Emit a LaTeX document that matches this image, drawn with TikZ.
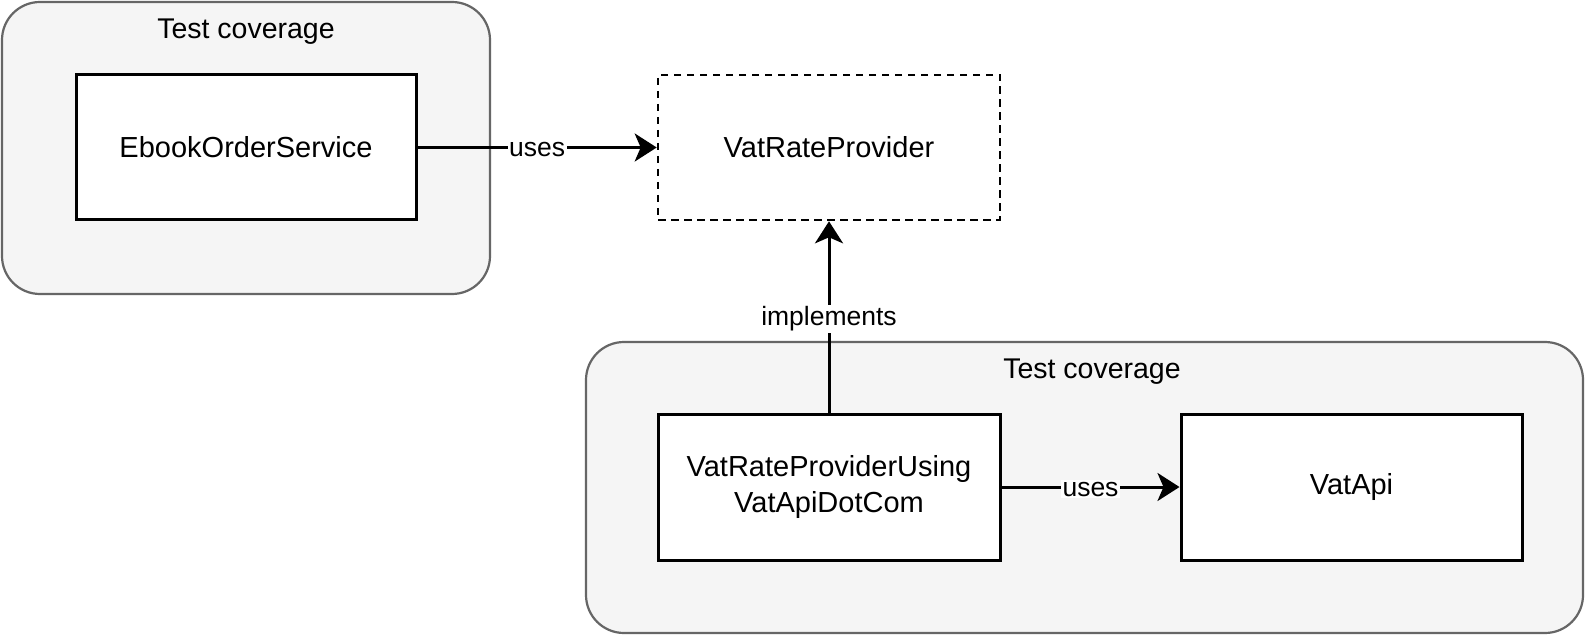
\documentclass[tikz,border=0pt]{standalone}
\usepackage{fontspec}
\setmainfont{Liberation Sans}
\usetikzlibrary{arrows.meta}
\definecolor{cgray}{HTML}{666666}
\definecolor{cfill}{HTML}{F5F5F5}
\begin{document}
\begin{tikzpicture}[x=1pt,y=-1pt,
  container/.style={draw=cgray, fill=cfill, line width=2.2pt, rounded corners=38pt, inner sep=0pt},
  cls/.style={draw=black, fill=white, line width=3pt, minimum width=341pt, minimum height=145pt, inner sep=0pt, font=\fontsize{29}{35.5}\selectfont, align=center},
  iface/.style={cls, line width=2.6pt, dash pattern=on 7.5pt off 5.5pt},
  title/.style={font=\fontsize{28.5}{34}\selectfont, inner sep=0pt},
  conn/.style={line width=3pt, -{Stealth[length=22pt,width=28pt,inset=6pt]}},
  lbl/.style={font=\fontsize{26.5}{32}\selectfont, fill=white, inner sep=1.5pt}
]
\fill[white] (0,0) rectangle (1586,636);
\useasboundingbox (0,0) rectangle (1586,636);

% containers
\node[container, minimum width=488pt, minimum height=292pt] (c1) at (246,148) {};
\node[container, minimum width=997pt, minimum height=291pt] (c2) at (1084.5,487.5) {};
\node[title] (t1) at (246,31.5) {Test coverage};
\node[title] (t2) at (1092,371.5) {Test coverage};

% classes
\node[cls, minimum width=340pt] (eos) at (246,147.5) {EbookOrderService};
\node[iface, minimum width=342pt] (vrp) at (829,147.5) {VatRateProvider};
\node[cls, minimum width=342pt, minimum height=146pt] (vrpu) at (829,487) {VatRateProviderUsing\\VatApiDotCom};
\node[cls, minimum height=146pt] (api) at (1351.5,487) {VatApi};

% connectors
\draw[conn] (eos.east) -- node[lbl, yshift=-2pt] {uses} (vrp.west);
\draw[conn] (vrpu.north) -- node[lbl, yshift=-2pt] {implements} (vrp.south);
\draw[conn] (vrpu.east) -- node[lbl, yshift=-2pt] {uses} (api.west);
\end{tikzpicture}
\end{document}
